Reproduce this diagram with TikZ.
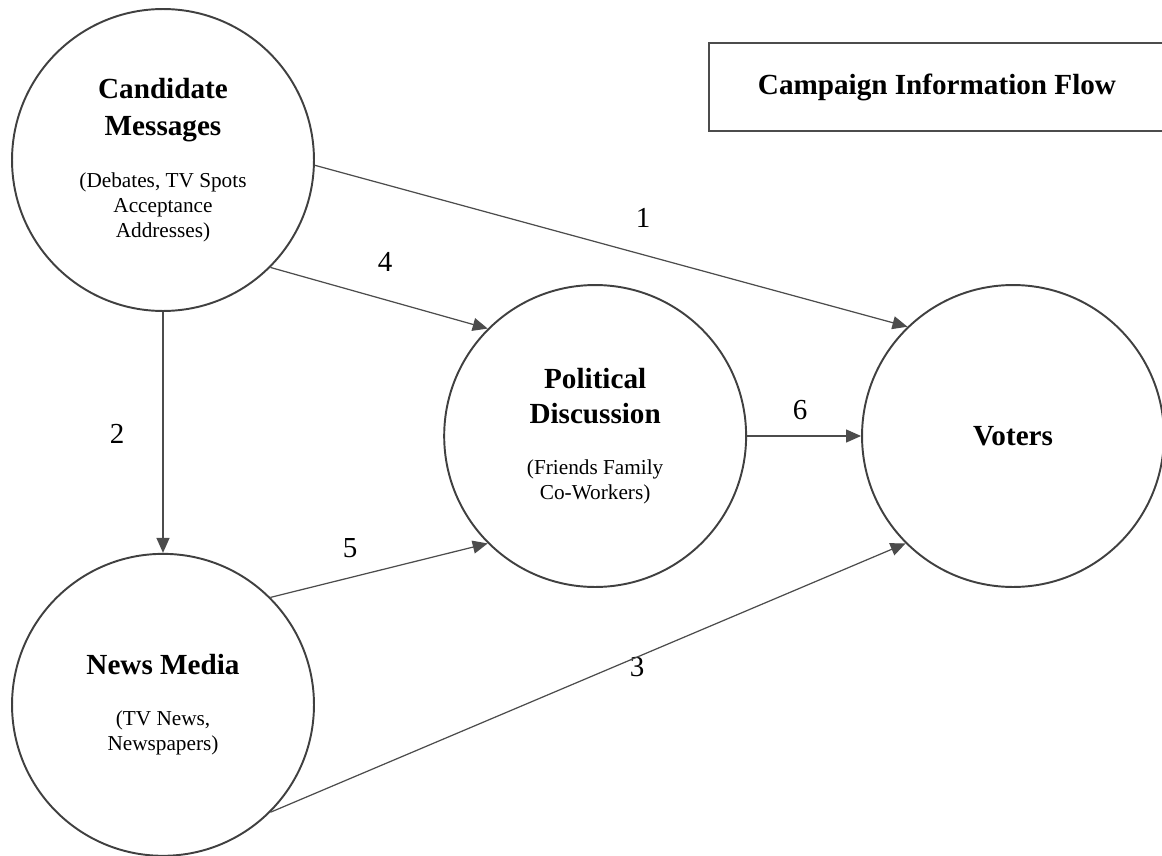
\documentclass[tikz,border=0pt]{standalone}
\usepackage{fontspec}
\setmainfont{Liberation Serif}
\usepackage{tikz}
\usetikzlibrary{positioning}
\usetikzlibrary{arrows.meta}
\tikzset{>={Triangle[width=2.6mm,length=3mm]}}
\newcommand{\headfont}{\fontsize{16.6}{14.2}\bfseries\selectfont}
\newcommand{\subfont}{\fontsize{12.1}{14.2}\mdseries\selectfont}

\begin{document}
\begin{tikzpicture}[x=0.02cm, y=-0.02cm, node/.style={circle, draw=black!75, line width=1.1pt, minimum size=6.04cm, inner sep=0pt, align=center, font=\headfont}, titlebox/.style={rectangle, draw=black!70, line width=1.3pt, minimum width=9.12cm, minimum height=1.76cm, font=\headfont}, emptynode/.style={draw=none, fill=none, inner sep=0pt, font=\fontsize{16.5}{18}\selectfont}, conn/.style={->, draw=black!70, line width=0.7pt}]
    \useasboundingbox (0,0) rectangle (1162,855);

    %Nodes
    \node[node](cand) at (163,160){Candidate\\[0.24cm]Messages\\[0.54cm]\subfont (Debates, TV Spots\\\subfont Acceptance\\\subfont Addresses)};
    \node[node](news)[below=4.82cm of cand]{News Media\\[0.52cm]\subfont (TV News,\\\subfont Newspapers)};
    \node[node](voters) at (1013,436){Voters};
    \node[node](pol)[left=2.28cm of voters]{Political\\[0.2cm]Discussion\\[0.52cm]\subfont (Friends Family\\\subfont Co-Workers)};
    \node[titlebox](title) at (937,87){Campaign Information Flow};

    \node[emptynode](one) at (643,218){1};
    \node[emptynode](two) at (117,434){2};
    \node[emptynode](three) at (637,667){3};
    \node[emptynode](four) at (385,262){4};
    \node[emptynode](five) at (350,548){5};
    \node[emptynode](six) at (800,410){6};

    %Lines
    \draw[conn] (cand.-2) -- (voters.134);
    \draw[conn] (cand.south) -- (news.north);
    \draw[conn] (news.-45) -- (voters.225);
    \draw[conn] (cand.-45) -- (pol.135);
    \draw[conn] (news.45) -- (pol.225);
    \draw[conn] (pol.east) -- (voters.west);

\end{tikzpicture}
\end{document}
